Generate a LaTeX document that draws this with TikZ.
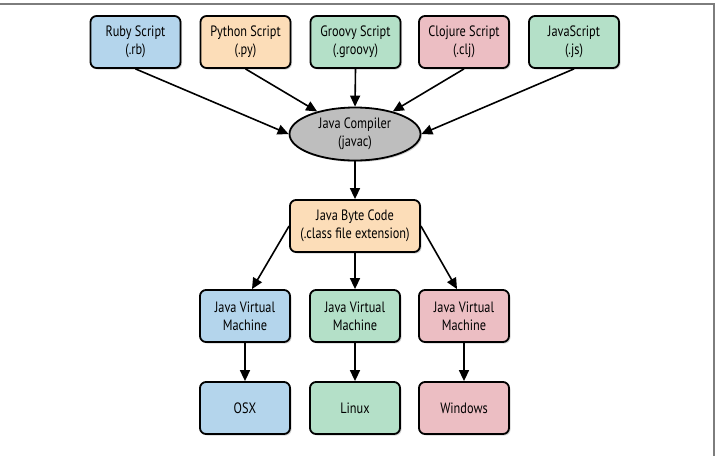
\documentclass[tikz,border=0pt]{standalone}
\usepackage{fontspec}
\setmainfont[FakeStretch=0.82]{PT Sans}
\usetikzlibrary{shapes.geometric,shadows,arrows.meta}
\definecolor{cblue}{RGB}{180,213,236}
\definecolor{cpeach}{RGB}{252,221,184}
\definecolor{cgreen}{RGB}{180,224,200}
\definecolor{cpink}{RGB}{236,190,195}
\definecolor{cgrey}{RGB}{190,190,190}
\definecolor{cframe}{RGB}{125,125,125}
\begin{document}
\begin{tikzpicture}[x=1pt,y=-1pt,
  box/.style={draw=black, line width=1.8pt, rounded corners=6pt,
    minimum width=90pt, minimum height=52pt, inner sep=0pt, align=center,
    font=\fontsize{15}{18}\selectfont,
    drop shadow={shadow xshift=1.5pt,shadow yshift=-1.5pt,opacity=0.35}},
  oval/.style={ellipse, draw=black, line width=1.8pt, fill=cgrey,
    minimum width=131pt, minimum height=53pt, inner sep=0pt, align=center,
    font=\fontsize{15}{18}\selectfont,
    drop shadow={shadow xshift=1.5pt,shadow yshift=-1.5pt,opacity=0.35}},
  arr/.style={-{Triangle[length=11pt,width=10pt]}, line width=1.6pt}]
\useasboundingbox (0,0) rectangle (720,456);
\draw[cframe, line width=1.5pt] (0,4) -- (714,4) -- (714,456);

\node[box, fill=cblue]  (ruby) at (135.5,42) {Ruby Script\\(.rb)};
\node[box, fill=cpeach] (py)   at (245.5,42) {Python Script\\(.py)};
\node[box, fill=cgreen] (gr)   at (355.5,42) {Groovy Script\\(.groovy)};
\node[box, fill=cpink]  (clj)  at (464,42)   {Clojure Script\\(.clj)};
\node[box, fill=cgreen] (js)   at (574,42)   {JavaScript\\(.js)};

\node[oval] (comp) at (355,134) {Java Compiler\\(javac)};

\node[box, fill=cpeach, minimum width=130pt] (bc) at (355,226) {Java Byte Code\\(.class file extension)};

\node[box, fill=cblue]  (j1) at (245,316) {Java Virtual\\Machine};
\node[box, fill=cgreen] (j2) at (355,316) {Java Virtual\\Machine};
\node[box, fill=cpink]  (j3) at (464,316) {Java Virtual\\Machine};

\node[box, fill=cblue]  (o1) at (245,408) {OSX};
\node[box, fill=cgreen] (o2) at (355,408) {Linux};
\node[box, fill=cpink]  (o3) at (464,408) {Windows};

\draw[arr] (ruby.south) -- (comp.west);
\draw[arr] (py.south) -- (comp);
\draw[arr] (gr.south) -- (comp.north);
\draw[arr] (clj.south) -- (comp);
\draw[arr] (js.south) -- (comp.east);

\draw[arr] (comp.south) -- (bc.north);

\draw[arr] (bc.west) -- ([xshift=7pt]j1.north);
\draw[arr] (bc.south) -- (j2.north);
\draw[arr] (bc.east) -- ([xshift=-7pt]j3.north);

\draw[arr] (j1.south) -- (o1.north);
\draw[arr] (j2.south) -- (o2.north);
\draw[arr] (j3.south) -- (o3.north);
\end{tikzpicture}
\end{document}
